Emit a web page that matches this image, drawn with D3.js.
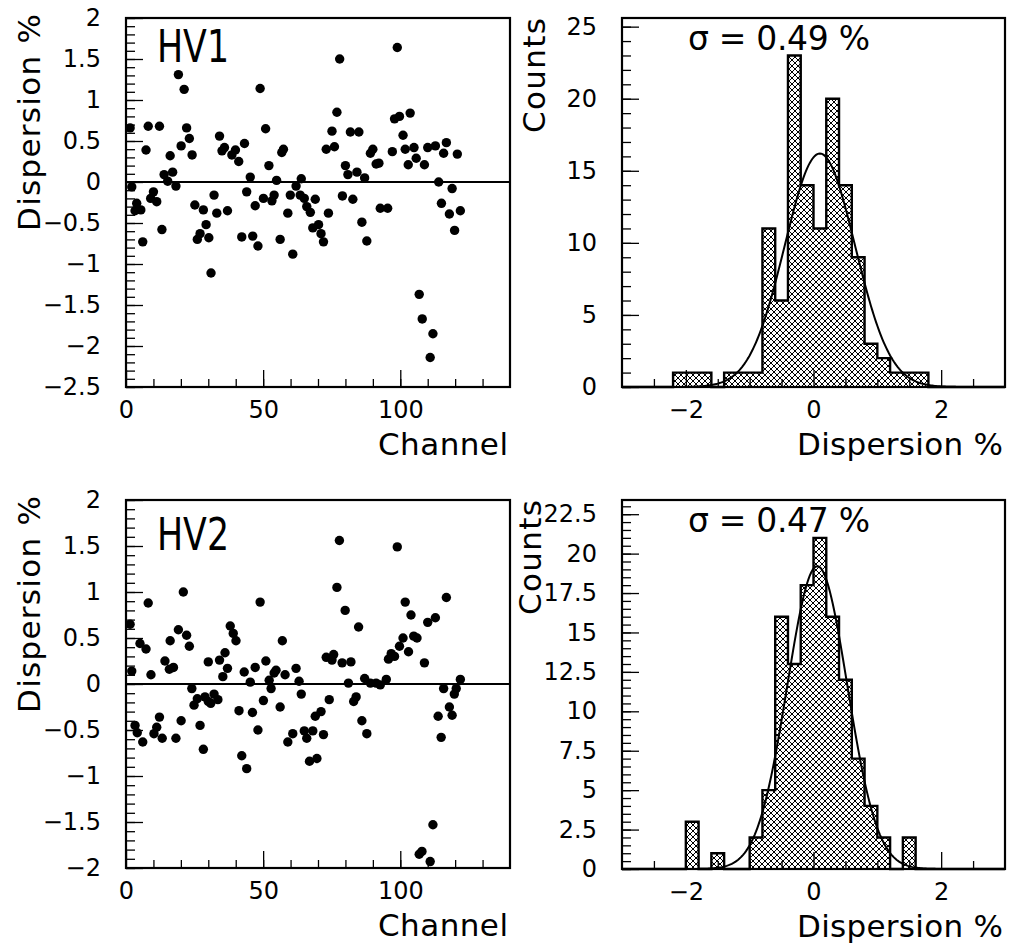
<!DOCTYPE html>
<html><head><meta charset="utf-8">
<script src="https://cdn.jsdelivr.net/npm/d3@7"></script>
<style>
body{margin:0;background:#fff}
svg{display:block}
text{font-family:"DejaVu Sans",sans-serif;fill:#000}
</style>
</head><body>
<svg id="c" width="1011" height="947"></svg>
<script>
// ---------- data ----------
const hv1Channel = [19.1,21.2,48.9,1.5,8.1,12.2,22.1,50.9,23.1,34.1,7.3,20.1,16.1,24.1,35.9,35.0,39.9,38.6,41.1,43.2,57.4,56.8,52.1,13.9,17.0,15.2,18.2,45.3,54.9,63.9,62.0,2.1,10.0,32.1,44.0,50.1,54.0,59.9,
 77.9,98.9,76.9,103.6,97.9,99.7,75.1,81.8,84.9,101.0,73.0,76.0,89.1,90.0,97.1,101.8,105.0,110.0,112.8,116.8,115.8,120.8,105.8,102.9,108.8,91.2,92.2,80.0,80.9,84.2,87.0,114.0,118.9,63.5,69.0,78.9,82.7,
 9.0,11.2,3.9,3.3,5.4,6.1,13.1,25.1,28.2,29.2,27.0,26.0,30.2,33.1,37.0,31.0,47.1,53.2,42.2,46.2,48.1,56.2,59.0,65.0,65.9,67.2,60.8,
 73.8,86.0,87.8,92.7,95.4,68.1,70.2,71.1,72.0,115.0,117.9,121.9,119.8,106.9,108.0,111.9,110.9];
const hv1Dispersion = [1.31,1.13,1.14,0.66,0.68,0.68,0.66,0.65,0.53,0.56,0.39,0.44,0.32,0.33,0.42,0.38,0.39,0.33,0.25,0.47,0.40,0.36,0.20,0.09,0.12,0.01,-0.05,0.06,0.02,0.04,-0.05,-0.06,-0.12,-0.16,-0.12,-0.20,-0.16,-0.16,
 1.50,1.64,0.85,0.84,0.77,0.80,0.62,0.61,0.61,0.57,0.40,0.43,0.35,0.40,0.37,0.40,0.42,0.42,0.44,0.48,0.35,0.34,0.29,0.21,0.21,0.22,0.23,0.20,0.09,0.12,0.05,0.00,-0.08,-0.16,-0.21,-0.17,-0.21,
 -0.20,-0.24,-0.26,-0.35,-0.34,-0.73,-0.58,-0.28,-0.34,-0.52,-0.63,-0.70,-0.68,-0.38,-0.35,-1.11,-0.29,-0.23,-0.67,-0.66,-0.78,-0.70,-0.38,-0.20,-0.30,-0.37,-0.88,
 -0.38,-0.49,-0.72,-0.32,-0.32,-0.56,-0.52,-0.63,-0.73,-0.26,-0.39,-0.35,-0.59,-1.37,-1.67,-1.85,-2.14];

const hv2Channel = [20.9,8.1,48.9,1.5,19.1,22.1,23.1,16.1,5.1,7.3,38.0,39.1,40.1,57.0,14.2,15.8,17.3,2.1,9.1,30.0,34.1,36.1,37.0,35.3,43.1,47.1,51.0,54.7,54.0,58.0,62.0,63.1,45.3,52.2,24.0,
 77.8,98.9,76.9,79.9,84.8,101.8,116.8,103.9,110.0,112.8,101.0,104.9,106.1,99.7,103.0,96.7,97.9,95.7,108.8,73.0,75.7,75.1,78.8,82.0,81.1,87.0,89.1,91.2,92.7,94.9,121.9,115.8,120.4,
 24.8,26.0,28.8,30.9,32.1,33.5,30.0,3.3,4.1,6.1,12.2,11.2,10.2,13.2,18.2,20.1,27.0,28.2,41.2,46.1,50.1,56.2,63.9,52.9,48.1,42.2,44.0,59.0,60.8,65.0,65.9,68.1,66.9,69.6,69.0,72.0,71.1,74.1,
 83.0,83.9,86.0,87.8,119.7,117.9,118.9,113.8,114.9,111.9,106.9,107.9,110.9];
const hv2Dispersion = [1.00,0.88,0.89,0.65,0.59,0.53,0.41,0.47,0.44,0.38,0.63,0.55,0.47,0.47,0.25,0.16,0.18,0.14,0.10,0.24,0.26,0.34,0.17,0.08,0.13,0.18,0.25,0.15,0.12,0.10,0.17,0.03,0.02,0.04,-0.05,
 1.56,1.49,1.05,0.80,0.62,0.89,0.94,0.75,0.67,0.72,0.50,0.52,0.50,0.41,0.35,0.33,0.30,0.27,0.23,0.29,0.32,0.26,0.23,0.24,0.01,0.06,0.01,0.01,-0.01,0.05,0.05,-0.05,-0.05,
 -0.23,-0.16,-0.14,-0.21,-0.11,-0.17,-0.19,-0.45,-0.53,-0.63,-0.36,-0.47,-0.54,-0.59,-0.59,-0.40,-0.45,-0.71,-0.29,-0.31,-0.18,-0.25,-0.11,-0.05,-0.50,-0.78,-0.92,-0.63,-0.54,-0.51,-0.59,-0.51,-0.84,-0.81,-0.35,-0.55,-0.30,-0.17,
 -0.19,-0.14,-0.40,-0.54,-0.11,-0.25,-0.34,-0.35,-0.58,-1.53,-1.85,-1.82,-1.93];

// histogram: 30 bins of width 0.2 from -3 to 3 (lower edges)
const binLowEdges = [-3.0,-2.8,-2.6,-2.4,-2.2,-2.0,-1.8,-1.6,-1.4,-1.2,-1.0,-0.8,-0.6,-0.4,-0.2,0.0,0.2,0.4,0.6,0.8,1.0,1.2,1.4,1.6,1.8,2.0,2.2,2.4,2.6,2.8];
const binWidth = 0.2;
const hv1Counts = [0,0,0,0,1,1,1,0,1,1,1,11,6,23,14,11,20,14,9,3,2,1,1,1,0,0,0,0,0,0];
const hv2Counts = [0,0,0,0,0,3,0,1,0,0,2,5,16,13,18,21,16,12,7,4,2,0,2,0,0,0,0,0,0,0];
// gaussian fits: [amplitude, mean, sigma]
const hv1Fit = [16.2, 0.10, 0.55];
const hv2Fit = [19.2, 0.06, 0.47];
const hv1SigmaLabel = "σ = 0.49 %";
const hv2SigmaLabel = "σ = 0.47 %";

// ticks
const hv1ScatterYTicks = [-2.5,-2,-1.5,-1,-0.5,0,0.5,1,1.5,2];
const hv2ScatterYTicks = [-2,-1.5,-1,-0.5,0,0.5,1,1.5,2];
const channelTicks = [0,50,100];
const histXTicks = [-2,0,2];
const hv1HistYTicks = [0,5,10,15,20,25];
const hv2HistYTicks = [0,2.5,5,7.5,10,12.5,15,17.5,20,22.5];

// ---------- drawing ----------
const svg = d3.select("#c");
const defs = svg.append("defs");
const P = 6;
const pat = defs.append("pattern").attr("id","hatch").attr("patternUnits","userSpaceOnUse")
  .attr("width",P).attr("height",P);
pat.append("path").attr("d",`M0,0L${P},${P}M${P},0L0,${P}M-1,1L1,-1M${P-1},${P+1}L${P+1},${P-1}M-1,${P-1}L1,${P+1}M${P-1},-1L${P+1},1`)
  .attr("stroke","#000").attr("stroke-width",1).attr("fill","none");

const fmt = d3.format("");

function styleAxis(g, fs){
  g.select(".domain").remove();
  g.selectAll(".tick line").attr("stroke","#000").attr("stroke-width",1.3);
  g.attr("font-family",'"DejaVu Sans",sans-serif').attr("font-size",fs);
  g.selectAll("text").attr("fill","#000");
}

function frame(x0,y0,x1,y1){
  svg.append("rect").attr("x",x0).attr("y",y0).attr("width",x1-x0).attr("height",y1-y0)
    .attr("fill","none").attr("stroke","#000").attr("stroke-width",2.2);
}

function leftAxis(y, x0, minorVals, majorVals){
  svg.append("g").attr("transform",`translate(${x0},0)`)
    .call(d3.axisLeft(y).tickValues(minorVals).tickSize(-9).tickFormat(""))
    .call(g=>styleAxis(g,24));
  svg.append("g").attr("transform",`translate(${x0},0)`)
    .call(d3.axisLeft(y).tickValues(majorVals).tickSize(-17).tickPadding(25).tickFormat(fmt))
    .call(g=>styleAxis(g,24));
}
function bottomAxis(x, y1, minorVals, majorVals){
  svg.append("g").attr("transform",`translate(0,${y1})`)
    .call(d3.axisBottom(x).tickValues(minorVals).tickSize(-8).tickFormat(""))
    .call(g=>styleAxis(g,24));
  svg.append("g").attr("transform",`translate(0,${y1})`)
    .call(d3.axisBottom(x).tickValues(majorVals).tickSize(-17).tickPadding(14).tickFormat(fmt))
    .call(g=>styleAxis(g,24));
}

function scatterPanel(x0,y0,x1,y1,chans,vals,yDom,yTicks,label,labelY,yTitleEnd){
  const x = d3.scaleLinear().domain([0,140]).range([x0,x1]);
  const y = d3.scaleLinear().domain(yDom).range([y1,y0]);
  const minorY = d3.range(Math.round(yDom[0]*10), Math.round(yDom[1]*10)+1).map(v=>v/10);
  leftAxis(y, x0, minorY, yTicks);
  bottomAxis(x, y1, d3.range(10,140,10), channelTicks);
  svg.append("line").attr("x1",x(0)).attr("x2",x(140)).attr("y1",y(0)).attr("y2",y(0))
    .attr("stroke","#000").attr("stroke-width",2);
  svg.append("g").selectAll("circle").data(chans.map((c,i)=>[c,vals[i]])).join("circle")
    .attr("cx",d=>x(d[0])).attr("cy",d=>y(d[1])).attr("r",4.7).attr("fill","#000");
  frame(x0,y0,x1,y1);
  svg.append("text").attr("x",157).attr("y",labelY).attr("font-size",44)
    .attr("textLength",72).attr("lengthAdjust","spacingAndGlyphs").text(label);
  svg.append("text").attr("x",378).attr("y",y1+68).attr("font-size",31)
    .attr("textLength",130).attr("lengthAdjust","spacing").text("Channel");
  svg.append("text").attr("transform",`translate(40,${yTitleEnd+217}) rotate(-90)`).attr("font-size",31)
    .attr("textLength",217).attr("lengthAdjust","spacing").text("Dispersion %");
}

function histPanel(x0,y0,x1,y1,counts,yMax,yTicks,yMinorStep,fit,sigmaLabel,sigmaY,countsX){
  const x = d3.scaleLinear().domain([-3,3]).range([x0,x1]);
  const y = d3.scaleLinear().domain([0,yMax]).range([y1,y0]);
  const pts = [[binLowEdges[0],0]];
  binLowEdges.forEach((e,i)=>pts.push([e,counts[i]]));
  pts.push([binLowEdges[binLowEdges.length-1]+binWidth, counts[counts.length-1]]);
  pts.push([binLowEdges[binLowEdges.length-1]+binWidth, 0]);
  const area = d3.area().curve(d3.curveStepAfter).x(d=>x(d[0])).y0(y(0)).y1(d=>y(d[1]));
  const line = d3.line().curve(d3.curveStepAfter).x(d=>x(d[0])).y(d=>y(d[1]));
  const body = pts.slice(1, pts.length-1);
  svg.append("path").datum(body).attr("d",area).attr("fill","url(#hatch)").attr("stroke","none");
  svg.append("path").datum(pts).attr("d",line).attr("fill","none").attr("stroke","#000").attr("stroke-width",2.4);
  const gx = d3.range(-3, 3.0001, 0.02);
  const gline = d3.line().x(d=>x(d)).y(d=>y(fit[0]*Math.exp(-0.5*Math.pow((d-fit[1])/fit[2],2))));
  svg.append("path").datum(gx).attr("d",gline).attr("fill","none").attr("stroke","#000").attr("stroke-width",2);
  const minorY = d3.range(0, Math.floor(yMax/yMinorStep)+1).map(i=>i*yMinorStep);
  leftAxis(y, x0, minorY, yTicks);
  bottomAxis(x, y1, [-2.5,-1.5,-1,-0.5,0.5,1,1.5,2.5], histXTicks);
  frame(x0,y0,x1,y1);
  svg.append("text").attr("x",688).attr("y",sigmaY).attr("font-size",33)
    .attr("textLength",182).attr("lengthAdjust","spacing").text(sigmaLabel);
  svg.append("text").attr("x",797).attr("y",y1+68).attr("font-size",31)
    .attr("textLength",206).attr("lengthAdjust","spacing").text("Dispersion %");
  svg.append("text").attr("transform",`translate(${countsX},${y0+115}) rotate(-90)`).attr("font-size",31)
    .attr("textLength",115).attr("lengthAdjust","spacing").text("Counts");
}

scatterPanel(126,18,510,387,hv1Channel,hv1Dispersion,[-2.5,2],hv1ScatterYTicks,"HV1",62,14);
scatterPanel(126,500,510,868,hv2Channel,hv2Dispersion,[-2,2],hv2ScatterYTicks,"HV2",550,496);
histPanel(622,18,1005,387,hv1Counts,25.6,hv1HistYTicks,1,hv1Fit,hv1SigmaLabel,50,545);
histPanel(622,500,1005,869,hv2Counts,23.4,hv2HistYTicks,0.5,hv2Fit,hv2SigmaLabel,532,541);
</script>
</body></html>
